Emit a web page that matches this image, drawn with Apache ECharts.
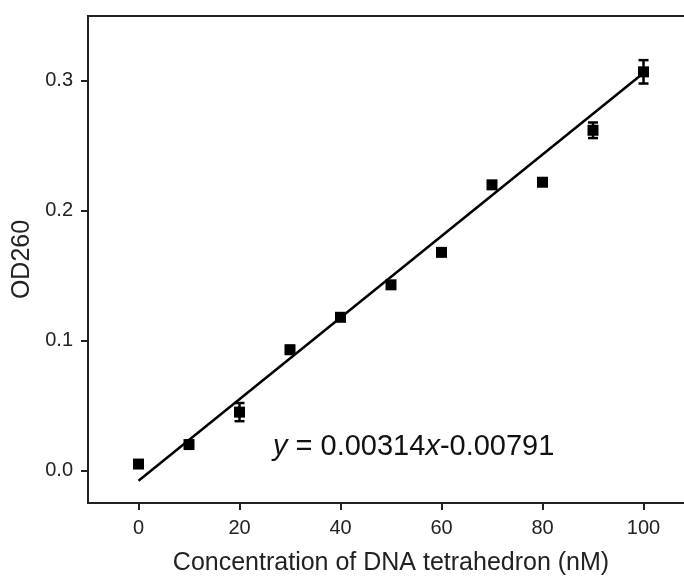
<!DOCTYPE html>
<html>
<head>
<meta charset="utf-8">
<script src="https://cdn.jsdelivr.net/npm/echarts@6/dist/echarts.min.js"></script>
<style>
html,body{margin:0;padding:0;background:#fff;}
#chart{width:684px;height:580px;}
</style>
</head>
<body>
<div id="chart"></div>
<script>
// 数据
var conc = [0, 10, 20, 30, 40, 50, 60, 70, 80, 90, 100];
var od = [0.005, 0.020, 0.045, 0.093, 0.118, 0.143, 0.168, 0.220, 0.222, 0.262, 0.307];
var err = [0.002, 0.002, 0.007, 0.003, 0.002, 0.002, 0.002, 0.002, 0.002, 0.006, 0.009];
var fitX = [0, 100];
var fitY = [-0.0079, 0.3061];
var xTicks = [0, 20, 40, 60, 80, 100];
var yTicks = [0, 0.1, 0.2, 0.3];
var xName = "Concentration of DNA tetrahedron (nM)";
var yName = "OD260";

var FONT = "'Liberation Sans', Arial, sans-serif";

var points = [], bars = [], fit = [];
for (var i = 0; i < conc.length; i++) {
	points.push([conc[i], od[i]]);
	bars.push([conc[i], od[i] - err[i], od[i] + err[i]]);
}
for (var j = 0; j < fitX.length; j++) {
	fit.push([fitX[j], fitY[j]]);
}

var myChart = echarts.init(document.getElementById('chart'));
var option = {
	animation: false,
	grid: {
		// 右边框画到画布外面去
		left: 88, top: 16, width: 606, bottom: 77,
		outerBoundsMode: 'none',
		show: true, borderColor: '#222', borderWidth: 2
	},
	xAxis: {
		type: 'value', min: -10, max: 110,
		name: xName, nameLocation: 'middle', nameGap: 48,
		nameTextStyle: {fontFamily: FONT, fontSize: 25, color: '#222'},
		axisLine: {show: true, onZero: false, lineStyle: {color: '#222', width: 2}},
		axisTick: {show: true, inside: false, length: 7, customValues: xTicks, lineStyle: {color: '#222', width: 2}},
		axisLabel: {customValues: xTicks, margin: 15, fontFamily: FONT, fontSize: 20, color: '#222'},
		splitLine: {show: false}
	},
	yAxis: {
		type: 'value', min: -0.025, max: 0.35,
		name: yName, nameLocation: 'middle', nameGap: 52,
		nameTextStyle: {fontFamily: FONT, fontSize: 25, color: '#222'},
		axisLine: {show: true, onZero: false, lineStyle: {color: '#222', width: 2}},
		axisTick: {show: true, inside: false, length: 7, customValues: yTicks, lineStyle: {color: '#222', width: 2}},
		axisLabel: {customValues: yTicks, margin: 15, fontFamily: FONT, fontSize: 20, color: '#222',
			formatter: function (v) { return v.toFixed(1); }},
		splitLine: {show: false}
	},
	series: [{
		type: 'line',
		data: fit,
		showSymbol: false,
		lineStyle: {color: '#000', width: 2.5},
		z: 3
	}, {
		type: 'custom',
		data: bars,
		renderItem: function (params, api) {
			var x = api.value(0);
			var lo = api.coord([x, api.value(1)]);
			var hi = api.coord([x, api.value(2)]);
			var w = 5;
			var st = {stroke: '#000', lineWidth: 2.5};
			return {
				type: 'group',
				children: [
					{type: 'line', shape: {x1: lo[0], y1: lo[1], x2: hi[0], y2: hi[1]}, style: st},
					{type: 'line', shape: {x1: lo[0] - w, y1: lo[1], x2: lo[0] + w, y2: lo[1]}, style: st},
					{type: 'line', shape: {x1: hi[0] - w, y1: hi[1], x2: hi[0] + w, y2: hi[1]}, style: st}
				]
			};
		},
		z: 4
	}, {
		type: 'scatter',
		data: points,
		symbol: 'rect',
		symbolSize: 11,
		itemStyle: {color: '#000', opacity: 1},
		z: 5
	}],
	graphic: [{
		type: 'text',
		left: 273,
		top: 432,
		style: {
			text: '{i|y} = 0.00314{i|x}-0.00791',
			fontFamily: FONT,
			fontSize: 29,
			fill: '#111',
			rich: {
				i: {fontStyle: 'italic', fontFamily: FONT, fontSize: 29, fill: '#111'}
			}
		}
	}]
};
myChart.setOption(option);
</script>
</body>
</html>
